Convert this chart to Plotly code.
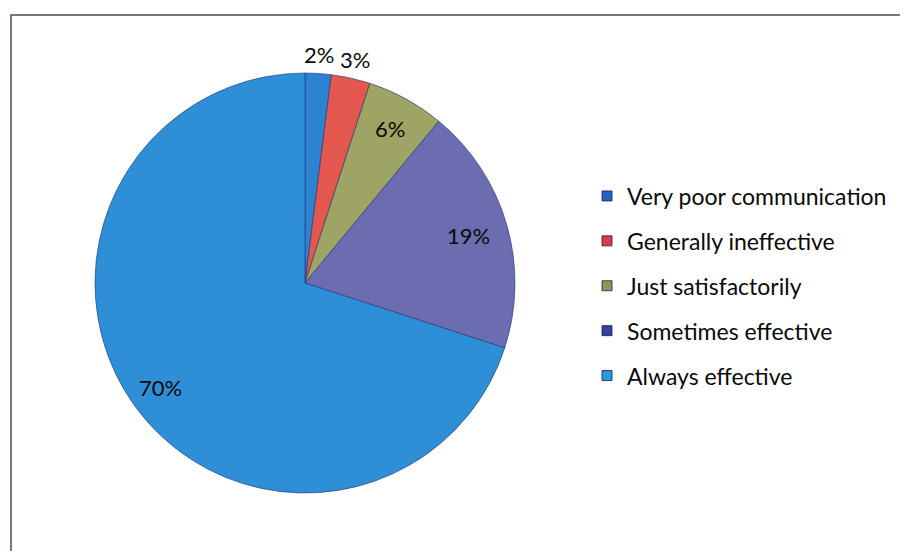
import math
import plotly.graph_objects as go

categories = ["Very poor communication", "Generally ineffective", "Just satisfactorily",
              "Sometimes effective", "Always effective"]
values = [2, 3, 6, 19, 70]
colors = ["#2c84d1", "#e3574f", "#9ea463", "#6c6cb0", "#2f8fd6"]
legend_colors = ["#2464c0", "#e03a44", "#8a9a55", "#3a3f9a", "#2a9ad8"]
# label radius as a fraction of the pie radius (None -> plotly inside text)
label_radius = [1.09, 1.09, None, 0.81, 0.85]

OFF = 8                 # page body margin
W, H = 900, 543         # figure size (fits in 908x551 window with body margin)
cx, cy, R = 305, 283, 210   # pie centre / radius in window pixels


def px(x):
    return (x - OFF) / W


def py(y):
    return 1 - (y - OFF) / H


total = sum(values)
text_pos = ["inside" if r is None else "none" for r in label_radius]

fig = go.Figure()
fig.add_trace(go.Pie(
    labels=categories, values=values, sort=False, direction="clockwise", rotation=0,
    marker=dict(colors=colors, line=dict(color="rgba(30,50,120,0.6)", width=1)),
    texttemplate="%{percent:.0%}", textposition=text_pos,
    insidetextorientation="horizontal",
    insidetextfont=dict(family="Lato", size=22, color="#0a0a0a"),
    domain=dict(x=[px(cx - R), px(cx + R)], y=[py(cy + R), py(cy - R)]),
    showlegend=False, hoverinfo="label+percent",
))

# percentage labels placed along each slice's mid-angle
annotations = []
cum = 0
for v, rf in zip(values, label_radius):
    mid = (cum + v / 2) / total * 2 * math.pi
    cum += v
    if rf is None:
        continue
    lx = cx + rf * R * math.sin(mid)
    ly = cy - rf * R * math.cos(mid)
    annotations.append(dict(
        x=px(lx), y=py(ly), xref="paper", yref="paper", showarrow=False,
        text=f"{round(v / total * 100)}%", xanchor="center", yanchor="middle",
        font=dict(family="Lato", size=22, color="#0a0a0a"),
    ))

for cat, col in zip(categories, legend_colors):
    fig.add_trace(go.Scatter(
        x=[None], y=[None], mode="markers", name=cat, legendgroup=cat,
        marker=dict(symbol="square", size=10, color=col, line=dict(color="rgba(20,30,80,0.8)", width=1)),
    ))

fig.update_layout(
    width=W, height=H,
    margin=dict(l=0, r=0, t=0, b=0),
    paper_bgcolor="white", plot_bgcolor="white",
    xaxis=dict(visible=False), yaxis=dict(visible=False),
    legend=dict(x=px(587), xanchor="left", y=py(286), yanchor="middle",
                font=dict(family="Lato", size=23, color="#0a0a0a"),
                tracegroupgap=12, bgcolor="rgba(0,0,0,0)"),
    annotations=annotations,
    shapes=[dict(type="rect", xref="paper", yref="paper",
                 x0=px(11), x1=1.02, y0=-0.02, y1=py(15),
                 line=dict(color="rgb(90,70,80)", width=1.5))],
)

fig.write_html("out.html")
